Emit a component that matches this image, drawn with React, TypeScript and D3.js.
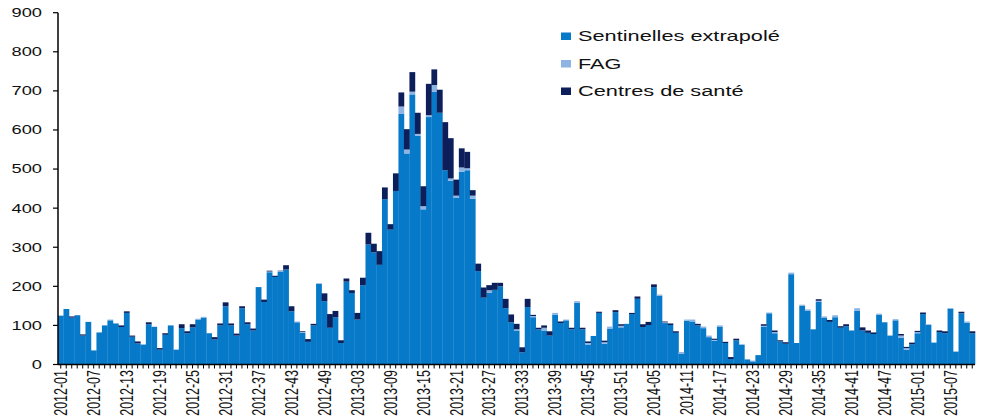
import React from "react";
import * as d3 from "d3";

// weekly values, 2012-01 .. 2015-11
const sentinelles = [
  125, 142, 120, 126, 74, 109, 36, 82, 100, 113, 105, 96, 132, 71, 54, 51, 103, 96, 38, 76,
  100, 38, 93, 80, 95, 115, 120, 80, 64, 100, 149, 100, 74, 144, 103, 87, 198, 160, 236, 224,
  237, 243, 136, 108, 81, 58, 100, 206, 162, 94, 121, 55, 212, 183, 115, 203, 307, 287, 255, 423,
  345, 444, 641, 540, 691, 585, 397, 633, 698, 644, 497, 470, 426, 493, 497, 424, 239, 171, 183, 191,
  200, 144, 108, 87, 31, 147, 121, 90, 87, 74, 127, 106, 113, 90, 158, 90, 51, 73, 132, 53,
  92, 134, 95, 104, 129, 168, 96, 101, 198, 176, 106, 101, 81, 27, 112, 110, 100, 93, 70, 61,
  96, 55, 14, 62, 50, 13, 8, 24, 96, 131, 80, 59, 53, 231, 55, 150, 137, 90, 160, 119,
  109, 121, 94, 98, 87, 138, 87, 81, 78, 127, 108, 74, 113, 68, 38, 52, 80, 129, 101, 56,
  83, 80, 143, 33, 131, 107, 80,
];
const fag = [
  0, 0, 0, 0, 0, 0, 0, 0, 0, 2, 0, 0, 0, 0, 0, 0, 0, 1, 0, 0,
  0, 0, 0, 0, 0, 2, 2, 0, 0, 0, 0, 0, 0, 0, 0, 0, 0, 0, 2, 0,
  2, 0, 0, 2, 2, 0, 0, 2, 0, 0, 0, 0, 0, 0, 0, 0, 0, 0, 0, 0,
  0, 0, 19, 10, 7, 5, 8, 5, 17, 0, 0, 6, 6, 11, 5, 8, 0, 0, 7, 0,
  0, 0, 0, 3, 0, 0, 3, 0, 7, 0, 5, 0, 2, 0, 4, 0, 4, 0, 0, 4,
  5, 0, 4, 0, 0, 0, 0, 0, 0, 3, 2, 0, 0, 5, 3, 5, 0, 4, 4, 2,
  4, 0, 0, 0, 2, 0, 2, 0, 3, 2, 3, 0, 0, 4, 0, 3, 4, 0, 3, 4,
  0, 5, 0, 0, 0, 6, 0, 0, 0, 3, 0, 0, 3, 6, 4, 0, 3, 0, 2, 0,
  0, 0, 1, 0, 0, 3, 0,
];
const centres = [
  0, 0, 3, 0, 3, 0, 0, 0, 0, 0, 0, 4, 4, 3, 5, 0, 5, 0, 4, 4,
  0, 0, 10, 5, 8, 0, 0, 0, 6, 5, 10, 5, 5, 5, 5, 5, 0, 6, 2, 3,
  1, 11, 13, 0, 2, 7, 4, 0, 20, 35, 16, 7, 8, 7, 17, 19, 30, 22, 35, 30,
  14, 45, 36, 52, 50, 54, 51, 80, 40, 59, 123, 103, 41, 49, 42, 14, 19, 26, 13, 18,
  9, 24, 20, 14, 13, 21, 3, 4, 6, 11, 0, 4, 0, 4, 0, 4, 4, 0, 3, 4,
  0, 5, 4, 0, 3, 6, 7, 8, 7, 0, 2, 4, 4, 0, 0, 0, 4, 0, 0, 3,
  0, 3, 5, 4, 0, 0, 0, 0, 4, 0, 4, 3, 4, 0, 0, 0, 0, 0, 4, 0,
  5, 0, 4, 5, 0, 0, 8, 6, 4, 0, 0, 0, 0, 4, 3, 4, 3, 4, 0, 0,
  4, 5, 0, 0, 4, 0, 5,
];

const weeksPerYear: [number, number][] = [
  [2012, 52],
  [2013, 52],
  [2014, 52],
  [2015, 11],
];
const weeks: string[] = [];
weeksPerYear.forEach(([y, n]) => {
  for (let w = 1; w <= n; w++) weeks.push(`${y}-${String(w).padStart(2, "0")}`);
});

const tickLabels = [
  "2012-01", "2012-07", "2012-13", "2012-19", "2012-25", "2012-31", "2012-37", "2012-43",
  "2012-49", "2013-03", "2013-09", "2013-15", "2013-21", "2013-27", "2013-33", "2013-39",
  "2013-45", "2013-51", "2014-05", "2014-11", "2014-17", "2014-23", "2014-29", "2014-35",
  "2014-41", "2014-47", "2015-01", "2015-07",
];
const yTicks = [0, 100, 200, 300, 400, 500, 600, 700, 800, 900];

const seriesKeys = ["Sentinelles extrapolé", "FAG", "Centres de santé"];
const colors = ["#0779c9", "#8db4e2", "#0c1f5a"];

const W = 983;
const H = 416;
const left = 58;
const right = 975;
const top = 12.7;
const bottom = 364.5;
const SX = 1.45; // source picture is stretched horizontally
const font = "'Liberation Sans', Arial, sans-serif";

export default function App() {
  const rows = weeks.map((wk, i) => ({
    week: wk,
    "Sentinelles extrapolé": sentinelles[i],
    FAG: fag[i],
    "Centres de santé": centres[i],
  }));

  const x = d3.scaleBand().domain(weeks).range([left, right]).padding(0);
  const y = d3.scaleLinear().domain([0, 900]).range([bottom, top]);
  const stacked = d3.stack<any>().keys(seriesKeys)(rows);

  return (
    <svg
      width={W}
      height={H}
      style={{ position: "absolute", left: 0, top: 0, background: "#fff" }}
      fontFamily={font}
    >
      {stacked.map((s, k) => (
        <g key={s.key} fill={colors[k]}>
          {s.map((d: any) => {
            const h = y(d[0]) - y(d[1]);
            if (h <= 0) return null;
            return (
              <rect
                key={d.data.week}
                x={x(d.data.week)}
                y={y(d[1])}
                width={x.bandwidth() + 0.3}
                height={h}
              />
            );
          })}
        </g>
      ))}

      {/* y axis */}
      <line x1={left} x2={left} y1={top} y2={bottom} stroke="#000" strokeWidth={1.5} />
      {yTicks.map((t) => (
        <g key={t}>
          <line x1={left - 5} x2={left} y1={y(t)} y2={y(t)} stroke="#000" strokeWidth={1.2} />
          <text
            transform={`translate(42, ${y(t)}) scale(${SX},1)`}
            textAnchor="end"
            dominantBaseline="central"
            fontSize={12.6}
            fill="#111"
          >
            {t}
          </text>
        </g>
      ))}

      {/* x axis */}
      <line x1={left} x2={right} y1={bottom} y2={bottom} stroke="#000" strokeWidth={1.5} />
      {weeks.map((wk) => (
        <line
          key={wk}
          x1={x(wk)! + x.bandwidth() / 2}
          x2={x(wk)! + x.bandwidth() / 2}
          y1={bottom}
          y2={bottom + 4}
          stroke="#000"
          strokeWidth={1}
        />
      ))}
      {tickLabels.map((lab) => (
        <text
          key={lab}
          transform={`translate(${x(lab)! + x.bandwidth() / 2}, 370) scale(${SX},1) rotate(-90)`}
          textAnchor="end"
          dominantBaseline="central"
          fontSize={12.5}
          fill="#111"
        >
          {lab}
        </text>
      ))}

      {/* legend */}
      {seriesKeys.map((k, i) => (
        <g key={k} transform={`translate(561, ${36 + i * 27.5})`}>
          <rect x={0} y={-3.5} width={10} height={7.5} fill={colors[i]} />
          <text
            transform={`translate(17, 0) scale(${SX},1)`}
            dominantBaseline="central"
            fontSize={15}
            fill="#111"
          >
            {k}
          </text>
        </g>
      ))}
    </svg>
  );
}
